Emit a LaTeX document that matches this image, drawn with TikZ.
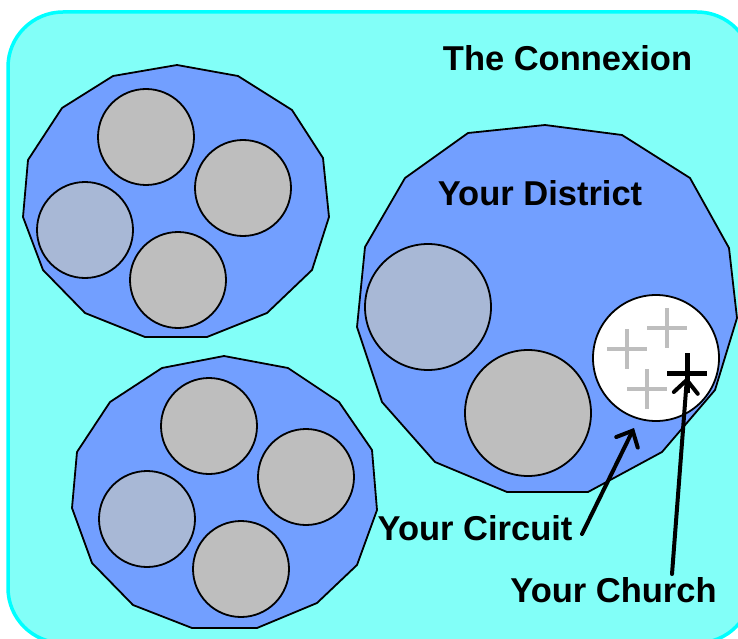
\documentclass[tikz,border=0pt]{standalone}
\usepackage{fontspec}
\setmainfont{Liberation Sans}
\usetikzlibrary{arrows.meta}
\definecolor{bgfill}{RGB}{130,255,248}
\definecolor{bgline}{RGB}{0,255,255}
\definecolor{polyfill}{RGB}{114,159,255}
\definecolor{cgray}{RGB}{190,190,190}
\definecolor{cblue}{RGB}{168,184,214}
\definecolor{crossgray}{RGB}{190,190,190}
\tikzset{
  region/.style={draw=black, line width=1.8pt, fill=polyfill, line join=round},
  unit/.style={circle, draw=black, line width=1.8pt, inner sep=0pt, fill=cgray},
  smallunit/.style={unit, minimum size=96pt},
  bigunit/.style={unit, minimum size=126pt},
  label/.style={font=\fontsize{34.5}{40}\selectfont\bfseries, inner sep=0pt, anchor=base},
  pointer/.style={line width=4pt, line cap=round, -{Straight Barb[length=13pt,width=24pt,line cap=round]}},
  graycross/.style={draw=crossgray, line width=4pt},
  blackcross/.style={draw=black, line width=5pt}
}
\begin{document}
\begin{tikzpicture}[x=1pt,y=-1pt]
\useasboundingbox (0,0) rectangle (738,639);
% background
\draw[fill=bgfill, draw=bgline, line width=3.5pt, rounded corners=55pt] (8,12) rectangle (752,643);
% top-left district
\draw[region] (177,65) -- (238,76) -- (292,110) -- (323,158) -- (329,217) -- (312,270) -- (267,313) -- (207,337) -- (145,337) -- (85,313) -- (43,270) -- (23,217) -- (28,160) -- (62,108) -- (113,76) -- cycle;
\node[smallunit] (a1) at (146,137) {};
\node[smallunit] (a2) at (243,188) {};
\node[smallunit, fill=cblue] (a3) at (85,230) {};
\node[smallunit] (a4) at (178,280) {};
% bottom-left district
\draw[region] (224,356) -- (288,368) -- (339,402) -- (372,450) -- (377,510) -- (357,565) -- (317,603) -- (257,628) -- (192,628) -- (133,605) -- (92,563) -- (72,508) -- (77,452) -- (110,402) -- (162,368) -- cycle;
\node[smallunit] (b1) at (209,426) {};
\node[smallunit] (b2) at (306,477) {};
\node[smallunit, fill=cblue] (b3) at (147,519) {};
\node[smallunit] (b4) at (241,569) {};
% your district
\draw[region] (545,125) -- (622,135) -- (690,178) -- (729,248) -- (737,318) -- (715,390) -- (662,452) -- (588,492) -- (507,492) -- (435,462) -- (382,402) -- (357,327) -- (365,247) -- (405,178) -- (468,133) -- cycle;
\node[bigunit, fill=cblue] (c1) at (428,307) {};
\node[bigunit] (c2) at (528,413) {};
\node[bigunit, fill=white] (circuit) at (656,358) {};
% churches
\draw[graycross] (607,349) -- (647,349) (627,329) -- (627,369);
\draw[graycross] (647,328) -- (687,328) (667,308) -- (667,348);
\draw[graycross] (627,389) -- (667,389) (647,369) -- (647,409);
\draw[blackcross] (667,373) -- (707,373) (687,353) -- (687,393);
\coordinate (church) at (687,377);
% labels
\node[label] (connexion) at (567.5,71) {The Connexion};
\node[label] (district) at (540,205) {Your District};
\node[label] (circuitlabel) at (475,540) {Your Circuit};
\node[label] (churchlabel) at (613.5,602) {Your Church};
% pointers
\coordinate (circuitTail) at (582,534);
\coordinate (circuitTip) at (634,428);
\coordinate (churchTail) at (672,574);
\draw[pointer] (circuitTail) -- (circuitTip);
\draw[pointer] (churchTail) -- (church);
\end{tikzpicture}
\end{document}
